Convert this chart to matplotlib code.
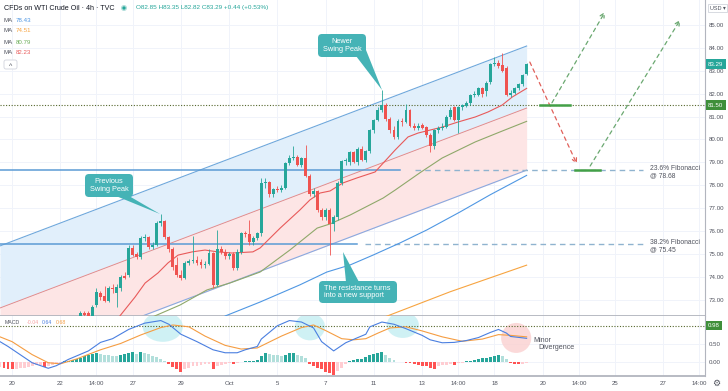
import matplotlib
matplotlib.use('Agg')
import numpy as np
import matplotlib.pyplot as plt
from matplotlib.patches import FancyBboxPatch, Polygon, Ellipse
from matplotlib.transforms import Affine2D

plt.rcParams['font.family'] = ['Liberation Sans', 'DejaVu Sans']

# 4h candles, index 0 = Sep 17 (last candles of the session)
opens = [71.9, 71.7, 71.8, 71.6, 71.1, 70.6, 70.4, 70.5, 70.1, 70.4,
         70.8, 71.0, 70.5, 70.7, 70.9, 71.1, 71.4, 71.8, 71.7, 72.0,
         72.1, 72.4, 72.4, 72.2, 72.75, 73.3, 73.15, 72.95, 73.5, 73.3,
         73.5, 74.05, 74.1, 75.25, 75.0, 74.87, 75.7, 75.75, 75.3, 75.4,
         76.35, 76.45, 75.75, 75.2, 74.5, 74.1, 73.95, 74.6, 74.7, 74.75,
         74.65, 74.5, 74.55, 75.05, 73.65, 75.2, 75.1, 74.9, 75.0, 74.4,
         75.1, 75.9, 75.85, 75.5, 75.7, 75.9, 78.1, 78.15, 77.6, 77.85,
         77.8, 77.9, 78.97, 79.2, 79.25, 78.9, 79.2, 78.4, 77.6, 77.75,
         76.9, 76.6, 76.9, 76.3, 76.6, 78.1, 79.05, 79.0, 79.45, 79.0,
         79.6, 79.1, 79.5, 80.4, 80.85, 81.3, 81.5, 80.9, 80.4, 80.1,
         80.8, 80.75, 81.3, 80.6, 80.5, 80.65, 80.55, 80.2, 79.7, 80.4,
         80.5, 80.55, 81.0, 81.4, 80.85, 81.4, 81.45, 81.6, 81.94, 81.95,
         82.25, 82.1, 82.5, 83.3, 83.35, 83.25, 83.1, 81.95, 82.05, 82.25,
         82.4, 82.85]
highs = [72.1, 71.9, 72.0, 71.7, 71.2, 70.8, 70.7, 70.6, 70.5, 70.9,
         71.2, 71.1, 70.9, 71.0, 71.2, 71.6, 71.9, 72.0, 72.1, 72.2,
         72.5, 72.5, 72.5, 72.75, 73.5, 73.4, 73.6, 73.6, 73.7, 73.7,
         74.1, 74.2, 75.4, 75.4, 75.1, 75.8, 75.85, 75.8, 75.5, 76.45,
         76.75, 76.5, 75.8, 75.3, 74.85, 74.3, 74.7, 74.8, 75.8, 74.9,
         74.8, 74.7, 75.2, 75.1, 76.05, 75.35, 75.2, 75.1, 75.1, 75.2,
         75.95, 76.0, 76.5, 75.8, 75.95, 78.3, 78.3, 78.2, 77.9, 77.95,
         78.0, 79.0, 79.3, 79.7, 79.3, 79.25, 79.75, 78.5, 77.9, 77.8,
         77.0, 77.0, 77.0, 76.7, 78.2, 79.1, 79.2, 79.5, 79.5, 79.65,
         79.7, 79.55, 80.45, 80.9, 81.4, 82.16, 81.6, 81.0, 80.6, 80.9,
         80.95, 81.55, 81.35, 80.7, 80.7, 80.7, 80.6, 80.3, 80.45, 80.6,
         80.7, 81.05, 81.4, 81.45, 81.45, 81.55, 81.7, 82.0, 82.1, 82.3,
         82.3, 82.55, 83.35, 83.6, 83.45, 83.78, 83.2, 82.15, 82.3, 82.45,
         82.85, 83.35]
lows = [71.6, 71.5, 71.6, 71.0, 70.5, 70.2, 70.0, 69.9, 70.0, 70.3,
        70.6, 70.4, 70.4, 70.5, 70.7, 71.0, 71.3, 71.5, 71.6, 71.8,
        72.0, 72.2, 72.1, 72.1, 72.7, 73.0, 72.9, 72.9, 73.3, 72.7,
        73.4, 73.9, 74.0, 74.9, 74.8, 74.8, 75.55, 75.2, 75.2, 75.35,
        76.2, 75.65, 75.1, 74.3, 74.0, 73.85, 73.9, 74.5, 74.6, 74.5,
        74.4, 74.4, 74.5, 73.5, 73.6, 75.0, 74.8, 74.8, 74.3, 74.3,
        75.0, 75.75, 75.4, 75.4, 75.6, 75.8, 77.9, 77.5, 77.5, 77.7,
        77.7, 77.85, 78.9, 79.1, 78.85, 78.8, 78.35, 77.55, 77.5, 76.85,
        76.5, 76.5, 74.95, 76.0, 76.5, 78.0, 78.9, 78.9, 78.95, 78.9,
        79.05, 79.0, 79.4, 80.3, 80.8, 81.2, 80.8, 80.3, 80.0, 80.0,
        80.6, 80.7, 80.55, 80.4, 80.4, 80.45, 80.1, 79.45, 79.6, 80.3,
        80.4, 80.5, 80.9, 80.8, 80.3, 81.3, 81.4, 81.5, 81.85, 81.9,
        81.85, 81.9, 82.4, 83.2, 83.1, 82.95, 81.9, 81.85, 82.0, 82.15,
        82.35, 82.82]
closes = [71.7, 71.8, 71.9, 71.1, 70.6, 70.4, 70.5, 70.1, 70.3, 70.8,
          71.0, 70.5, 70.7, 70.9, 71.1, 71.4, 71.8, 71.7, 72.0, 72.1,
          72.4, 72.35, 72.2, 72.7, 73.35, 73.1, 72.95, 73.5, 73.45, 73.55,
          74.0, 73.95, 75.25, 74.95, 74.87, 75.7, 75.75, 75.3, 75.4, 76.35,
          76.45, 75.75, 75.2, 74.45, 74.1, 73.95, 74.6, 74.7, 74.75, 74.6,
          74.5, 74.55, 75.05, 73.65, 75.2, 75.1, 74.9, 75.0, 74.4, 75.1,
          75.9, 75.85, 75.5, 75.7, 75.9, 78.1, 78.15, 77.6, 77.85, 77.8,
          77.9, 78.97, 79.2, 79.25, 78.9, 79.2, 78.4, 77.6, 77.75, 76.9,
          76.6, 76.9, 76.3, 76.6, 78.1, 79.05, 79.1, 79.45, 79.0, 79.6,
          79.1, 79.5, 80.4, 80.85, 81.3, 81.5, 80.9, 80.4, 80.1, 80.8,
          80.75, 81.3, 80.6, 80.5, 80.6, 80.5, 80.2, 79.7, 80.4, 80.5,
          80.55, 80.98, 81.3, 80.85, 81.4, 81.5, 81.6, 81.94, 82.0, 82.25,
          82.0, 82.47, 83.3, 83.35, 83.2, 83.0, 81.94, 82.05, 82.25, 82.4,
          82.8, 83.29]

# moving averages (candle index, price)
ma20_x = [29.4, 33.6, 36.1, 39.3, 41.8, 44.3, 47.8, 51, 54.2, 57.7, 62.9, 64.7, 69.7, 74.6, 77.1,
          79.6, 82.1, 85.3, 88.8, 93.3, 98.3, 101.5, 104, 110, 113.9, 118.2, 121.4, 124.9, 127.4, 131]
ma20 = [72.2, 73.12, 73.73, 74.17, 74.61, 74.95, 75.09, 75.17, 75.09, 75.04, 75.09, 75.26, 76.13, 76.92, 77.36,
        77.66, 77.75, 78.1, 78.32, 78.58, 79.54, 80.11, 80.28, 80.54, 80.76, 80.98, 81.2, 81.5, 81.85, 82.23]
ma50_x = [37.3, 44.8, 51.5, 57.2, 64.7, 72.1, 78.9, 82.1, 87.1, 95.3, 98.3, 104.5, 110, 118.2, 124.4, 131]
ma50 = [72.2, 72.77, 73.43, 73.73, 74.21, 75.17, 76.13, 76.31, 76.7, 77.44, 77.79, 78.55, 79.19, 79.89, 80.33, 80.79]
ma100_x = [56, 64.7, 74.6, 81.3, 87.1, 92.8, 99.5, 106.2, 114.4, 121.9, 131]
ma100 = [72.29, 72.9, 73.65, 74.21, 74.52, 74.95, 75.48, 76.05, 76.83, 77.58, 78.43]
ma200_x = [95, 112, 131]
ma200 = [72.2, 73.35, 74.51]

# MACD panel
macd_x = [0, 2, 5, 8, 12, 14, 17, 22, 25, 28, 32, 36, 40, 42, 45, 49, 53, 56, 59, 61,
          64, 65, 69, 72, 75, 78, 80, 83, 86, 89, 91, 92, 95, 98, 101, 105, 107, 110, 113, 116,
          119, 122, 124, 126, 127, 131]
macd_line = [0.55, 0.42, 0.2, -0.02, -0.17, -0.1, 0.07, 0.3, 0.53, 0.63, 0.88, 1.05, 1.12, 1.02, 0.75, 0.55, 0.33, 0.25, 0.25, 0.33,
             0.42, 0.62, 0.98, 1.12, 1.08, 0.92, 0.55, 0.3, 0.52, 0.66, 0.75, 0.95, 1.08, 1.02, 0.9, 0.72, 0.6, 0.52, 0.53, 0.58,
             0.66, 0.8, 0.88, 0.78, 0.69, 0.64]
signal_x = [0, 3, 8, 12, 15, 19, 25, 30, 35, 40, 43, 47, 51, 56, 60, 64, 70, 75, 78, 81,
            85, 88, 91, 94, 97, 101, 105, 110, 115, 120, 124, 127, 131]
signal_line = [0.68, 0.55, 0.2, -0.02, -0.05, 0.08, 0.33, 0.5, 0.73, 0.93, 1.0, 0.95, 0.7, 0.45, 0.35, 0.38, 0.7, 0.93, 1.0, 0.85,
               0.63, 0.6, 0.63, 0.78, 0.92, 0.95, 0.84, 0.68, 0.56, 0.62, 0.74, 0.72, 0.68]
hist = [-0.14, -0.16, -0.18, -0.2, -0.18, -0.16, -0.15, -0.13, -0.11, -0.09,
        -0.07, -0.13, -0.1, -0.07, -0.04, -0.02, 0.02, 0.04, 0.06, 0.09,
        0.12, 0.15, 0.18, 0.21, 0.25, 0.22, 0.2, 0.18, 0.16, 0.15,
        0.18, 0.22, 0.25, 0.26, 0.21, 0.27, 0.25, 0.21, 0.17, 0.13,
        0.08, 0.04, -0.06, -0.14, -0.2, -0.26, -0.2, -0.15, -0.12, -0.1,
        -0.08, -0.06, -0.05, -0.18, -0.12, -0.08, -0.05, -0.03, -0.06, -0.03,
        -0.01, 0.02, 0.03, 0.04, 0.05, 0.17, 0.25, 0.22, 0.2, 0.18,
        0.16, 0.2, 0.23, 0.24, 0.2, 0.15, 0.1, -0.05, -0.1, -0.15,
        -0.2, -0.26, -0.3, -0.35, -0.25, -0.15, -0.06, 0.03, 0.05, 0.07,
        0.09, 0.13, 0.18, 0.22, 0.25, 0.27, 0.2, 0.12, 0.05, 0.01,
        -0.01, -0.02, -0.04, -0.06, -0.08, -0.1, -0.12, -0.15, -0.18, -0.12,
        -0.09, -0.07, -0.05, -0.07, -0.04, -0.02, 0.02, 0.04, 0.06, 0.08,
        0.1, 0.12, 0.14, 0.17, 0.2, 0.15, 0.08, -0.02, -0.05, -0.06,
        -0.05, -0.04]

tick_pos = [3, 15, 24, 33, 45, 57, 69, 81, 93, 105, 114, 123, 135, 144, 153, 165, 174]
tick_labels = ['20', '22', '14:00', '27', '29', 'Oct', '5', '7', '11', '13', '14:00',
               '18', '20', '14:00', '25', '27', '14:00']
price_ticks = [73, 74, 75, 76, 77, 78, 79, 80, 81, 82, 83, 84, 85]
fib_levels = [78.68, 75.45]
fib_names = ['23.6% Fibonacci', '38.2% Fibonacci']
pivot = 81.50
macd_level = 0.98
last_close = 83.29

# regression channel (start / end of the mid line)
chan_x = [0, 131]
chan_mid = [72.64, 81.37]
chan_half = 2.71

GREEN = '#26a69a'
RED = '#ef5350'
TEAL = '#45b3b6'
TXT = '#50535e'
GRID = '#f0f3fa'

W, H = 728, 391
fig = plt.figure(figsize=(W / 100, H / 100), dpi=100)
ax = fig.add_axes([0, 1 - 316 / H, 705 / W, 316 / H])
ax2 = fig.add_axes([0, 1 - 376 / H, 705 / W, 60 / H], sharex=ax)
px = Affine2D().scale(1 / W, -1 / H).translate(0, 1) + fig.transFigure

for a in (ax, ax2):
    a.set_xlim(0, 705 / 4.02)
    a.set_xticks(tick_pos)
    a.yaxis.tick_right()
    a.grid(color=GRID, lw=0.7, zorder=0)
    a.set_axisbelow(True)
    for s in ('top', 'left'):
        a.spines[s].set_visible(False)
    a.spines['right'].set_color('#b2b5be')
    a.spines['bottom'].set_color('#b2b5be')
    a.spines['bottom'].set_linewidth(1.3)
    a.tick_params(length=0, labelsize=4.4, labelcolor=TXT, pad=2.5)
ax.tick_params(labelbottom=False)
ax2.set_xticklabels(tick_labels)
ax2.tick_params(axis='x', pad=3.5)

ax.set_ylim(72.29, 86.09)
ax.set_yticks(price_ticks)
ax.set_yticklabels(['%.2f' % p for p in price_ticks])
ax2.set_ylim(-0.378, 1.243)
ax2.set_yticks([0, 0.5])
ax2.set_yticklabels(['0.00', '0.50'])

# channel
cx = np.array(chan_x, dtype=float)
cm = np.array(chan_mid)
ax.fill_between(cx, cm, cm + chan_half, color='#e1effb', lw=0, zorder=1)
ax.fill_between(cx, cm - chan_half, cm, color='#fde5e5', lw=0, zorder=1)
ax.plot(cx, cm + chan_half, color='#6fa8dc', lw=0.8, zorder=2)
ax.plot(cx, cm, color='#e58b8b', lw=0.7, zorder=2)
ax.plot(cx, cm - chan_half, color='#8aa9e0', lw=0.8, zorder=2)

# fibonacci / support lines
ax.plot([0, 99.5], [fib_levels[0]] * 2, color='#5b9bd5', lw=1.1, zorder=2)
ax.plot([0, 88.8], [fib_levels[1]] * 2, color='#5b9bd5', lw=1.1, zorder=2)
for lvl, name in zip(fib_levels, fib_names):
    start = 103.2 if lvl == fib_levels[0] else 90.8
    ax.plot([start, 160], [lvl, lvl], color='#8fb3cf', lw=1.0, ls=(0, (4, 3)), zorder=2)
    ax.text(161.7, lvl - 0.1, '%s\n@ %.2f' % (name, lvl), fontsize=4.9, color=TXT,
            va='center', ha='left', linespacing=1.0)

ax.axhline(pivot, color='#55672d', lw=0.8, ls=(0, (1, 1.5)), zorder=2)
ax2.axhline(macd_level, color='#55672d', lw=0.8, ls=(0, (1, 1.5)), zorder=2)

# moving averages
ax.plot(ma200_x, ma200, color='#f7a440', lw=0.8, zorder=3)
ax.plot(ma100_x, ma100, color='#4f97e3', lw=0.8, zorder=3)
ax.plot(ma50_x, ma50, color='#8fa86a', lw=0.8, zorder=3)
ax.plot(ma20_x, ma20, color='#e85a5a', lw=0.8, zorder=3)

# candles
o = np.array(opens)
c = np.array(closes)
x = np.arange(len(c))
col = np.where(c >= o, GREEN, RED)
ax.vlines(x, lows, highs, colors=col, lw=0.6, zorder=4)
ax.bar(x, np.maximum(np.abs(c - o), 0.03), bottom=np.minimum(o, c), width=0.72,
       color=col, lw=0, zorder=5)

# projected path
ax.plot([134.3, 141.8], [pivot, pivot], color='#43a047', lw=1.8, zorder=6)
ax.plot([143.0, 149.3], [fib_levels[0]] * 2, color='#43a047', lw=1.8, zorder=6)
ax.annotate('', xy=(143.5, 78.93), xytext=(131.8, 83.38),
            arrowprops=dict(arrowstyle='->', color='#e0605a', lw=0.9, ls=(0, (3, 3)),
                            shrinkA=0, shrinkB=0, mutation_scale=8))
ax.annotate('', xy=(150.5, 85.57), xytext=(137.3, 81.6),
            arrowprops=dict(arrowstyle='->', color='#6aa870', lw=0.9, ls=(0, (3, 3)),
                            shrinkA=0, shrinkB=0, mutation_scale=8))
ax.annotate('', xy=(169.2, 85.22), xytext=(146.8, 78.84),
            arrowprops=dict(arrowstyle='->', color='#6aa870', lw=0.9, ls=(0, (3, 3)),
                            shrinkA=0, shrinkB=0, mutation_scale=8))

# MACD
for (ex, ey, ew, eh, fc) in [(40.5, 0.95, 10, 0.81, '#c4eef2'), (77.1, 0.95, 7.5, 0.73, '#c4eef2'),
                             (100.2, 1.0, 8, 0.7, '#c4eef2'), (128.4, 0.65, 7.5, 0.81, '#fbd0d0')]:
    ax2.add_patch(Ellipse((ex, ey), ew, eh, fc=fc, ec='none', alpha=0.8, zorder=1))
h = np.array(hist)
hcol = []
for i, v in enumerate(h):
    prev = h[i - 1] if i > 0 else v
    if v >= 0:
        hcol.append('#26a69a' if v >= prev else '#b2dfdb')
    else:
        hcol.append('#ff5252' if v < prev else '#ffcdd2')
ax2.bar(np.arange(len(h)), h, width=0.72, color=hcol, lw=0, zorder=2)
ax2.plot(signal_x, signal_line, color='#f59d42', lw=0.8, zorder=3)
ax2.plot(macd_x, macd_line, color='#4a7fe0', lw=0.8, zorder=3)

# price boxes on the right axis
for a, val, fc in [(ax, last_close, GREEN), (ax, pivot, '#3f8f3a'), (ax2, macd_level, '#3f8f3a')]:
    a.text(1.0045, val, '%.2f' % val, transform=a.get_yaxis_transform(), fontsize=4.4,
           color='white', va='center', ha='left',
           bbox=dict(boxstyle='square,pad=0.35', fc=fc, ec='none'), zorder=10)
fig.text(710, 8, 'USD ▾', transform=px, fontsize=4, color=TXT, va='center',
         bbox=dict(boxstyle='square,pad=0.3', fc='white', ec='#d1d4dc', lw=0.6))

# legend
fig.text(4, 8, 'CFDs on WTI Crude Oil · 4h · TVC', transform=px, fontsize=5.1,
         color='#131722', va='center')
fig.add_artist(Ellipse((124, 8), 6, 6, transform=px, fc='#b2dfdb', ec='none'))
fig.add_artist(Ellipse((124, 8), 3.2, 3.2, transform=px, fc=GREEN, ec='none'))
fig.text(136, 8, 'O82.85 H83.35 L82.82 C83.29 +0.44 (+0.53%)', transform=px,
         fontsize=4.6, color=GREEN, va='center')
for k, (val, cc) in enumerate([('78.43', '#4f97e3'), ('74.51', '#f7a440'),
                               ('80.79', '#6cae5a'), ('82.23', '#e85a5a')]):
    yy = 20 + 11 * k
    fig.text(4, yy, 'MA', transform=px, fontsize=4.4, color=TXT, va='center')
    fig.text(16, yy, val, transform=px, fontsize=4.4, color=cc, va='center')
fig.add_artist(FancyBboxPatch((4, 60), 13, 9, boxstyle='round,pad=0,rounding_size=2',
                              transform=px, fc='white', ec='#d1d4dc', lw=0.6))
fig.text(10.5, 66, '^', transform=px, fontsize=5, color=TXT, ha='center', va='center')

fig.text(5, 323, 'MACD', transform=px, fontsize=3.8, color=TXT, va='center')
fig.text(27, 323, '-0.04', transform=px, fontsize=3.8, color='#f7a3a3', va='center')
fig.text(42, 323, '0.64', transform=px, fontsize=3.8, color='#4a7fe0', va='center')
fig.text(56, 323, '0.68', transform=px, fontsize=3.8, color='#f59d42', va='center')
fig.text(533, 340, 'Minor', transform=px, fontsize=5.1, color=TXT, va='center')
fig.text(538, 347.5, 'Divergence', transform=px, fontsize=5.1, color=TXT, va='center')
fig.text(716, 383, '⚙', transform=px, fontsize=6.5, color=TXT, ha='center', va='center',
         family='DejaVu Sans')

# callouts
callouts = [((85, 174, 48, 23), [(116, 196), (129, 196), (160, 214)], 'Previous\nSwing Peak', 'center'),
            ((318, 34, 48, 23), [(356, 56), (366, 50), (382, 90)], 'Newer\nSwing Peak', 'center'),
            ((319, 281, 78, 22), [(346, 282), (359, 282), (343, 252)],
             'The resistance turns\ninto a new support', 'left')]
for (bx, by, bw, bh), tri, label, al in callouts:
    fig.add_artist(Polygon(tri, closed=True, transform=px, fc=TEAL, ec='none'))
    fig.add_artist(FancyBboxPatch((bx, by), bw, bh, boxstyle='round,pad=0,rounding_size=4',
                                  transform=px, fc=TEAL, ec='none'))
    tx = bx + bw / 2 if al == 'center' else bx + 5
    fig.text(tx, by + bh / 2, label, transform=px, fontsize=5.3, color='white',
             ha=al, va='center', linespacing=1.1)

fig.savefig('out.png', dpi=100, facecolor='white')
